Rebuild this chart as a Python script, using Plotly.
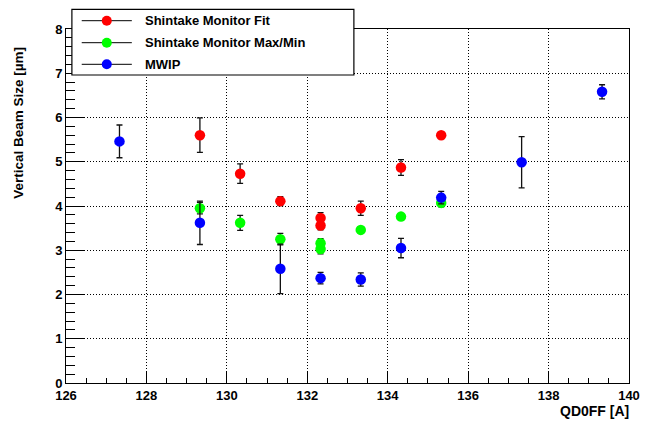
import plotly.graph_objects as go

# ---- data ----
x_fit = [129.33, 130.33, 131.33, 132.33, 132.33, 133.33, 134.33, 135.33]
y_fit = [5.60, 4.73, 4.11, 3.73, 3.56, 3.95, 4.87, 5.60]
e_fit = [0.39, 0.22, 0.10, 0.12, 0.10, 0.16, 0.18, 0.04]

x_mm = [129.33, 130.33, 131.33, 132.33, 132.33, 133.33, 134.33, 135.33]
y_mm = [3.95, 3.62, 3.25, 3.16, 3.03, 3.46, 3.76, 4.07]
e_mm = [0.13, 0.17, 0.13, 0.10, 0.11, 0.06, 0.03, 0.09]

x_mwip = [127.33, 129.33, 131.33, 132.33, 133.33, 134.33, 135.33, 137.33, 139.33]
y_mwip = [5.46, 3.62, 2.58, 2.37, 2.34, 3.05, 4.19, 4.99, 6.58]
e_mwip = [0.37, 0.49, 0.56, 0.13, 0.15, 0.22, 0.14, 0.58, 0.16]

series_names = ["Shintake Monitor Fit", "Shintake Monitor Max/Min", "MWIP"]
series_colors = ["#ff0000", "#00ff00", "#0000ff"]

W, H = 652, 421
ML, MR, MT, MB = 66, 13, 29, 38
PW, PH = W - ML - MR, H - MT - MB

def px(x):
    return (x - ML) / PW

def py(y):
    return (H - MB - y) / PH

FONT = "Liberation Sans"

fig = go.Figure()
for xs, ys, es, name, col in zip([x_fit, x_mm, x_mwip], [y_fit, y_mm, y_mwip],
                                 [e_fit, e_mm, e_mwip], series_names, series_colors):
    fig.add_trace(go.Scatter(
        x=xs, y=ys, mode="markers", name=name, showlegend=False,
        marker=dict(color=col, size=10.5, symbol="circle"),
        error_y=dict(type="data", array=es, visible=True, color="#111111",
                     thickness=1.3, width=3),
    ))

axis_common = dict(
    showline=True, linecolor="black", linewidth=1, mirror=True,
    ticks="inside", tickcolor="black", tickwidth=1,
    showgrid=True, gridcolor="black", gridwidth=1, griddash="1px,2px",
    zeroline=False,
    tickprefix="<b>", ticksuffix="</b>",
    tickfont=dict(family=FONT, size=13, color="black", weight="bold"),
)

fig.update_xaxes(range=[126, 140], tick0=126, dtick=2, ticklen=11,
                 minor=dict(dtick=0.5, ticklen=5, tickcolor="black", ticks="inside", showgrid=False),
                 **axis_common)
fig.update_yaxes(range=[0, 8], tick0=0, dtick=1, ticklen=18,
                 minor=dict(dtick=0.2, ticklen=9, tickcolor="black", ticks="inside", showgrid=False),
                 **axis_common)

annotations = [
    dict(text="<b>Vertical Beam Size [\u00b5m]</b>", textangle=-90, x=px(17), y=py(45),
         xref="paper", yref="paper", xanchor="center", yanchor="top", showarrow=False,
         font=dict(family=FONT, size=13.5, color="black", weight="bold")),
    dict(text="<b>QD0FF [A]</b>", x=px(641), y=py(411), xref="paper", yref="paper",
         xanchor="right", yanchor="middle", showarrow=False,
         font=dict(family=FONT, size=14, color="black", weight="bold")),
]

shapes = [
    dict(type="rect", xref="paper", yref="paper", x0=px(72), x1=px(359), y0=py(75), y1=py(9.3),
         line=dict(color="black", width=1.2), fillcolor="white", layer="above"),
]
rows = [20.7, 42.7, 64.3]
for ry, name, col in zip(rows, series_names, series_colors):
    shapes.append(dict(type="line", xref="paper", yref="paper", x0=px(82), x1=px(133),
                       y0=py(ry), y1=py(ry), line=dict(color="black", width=1), layer="above"))
    shapes.append(dict(type="circle", xref="paper", yref="paper", xsizemode="pixel", ysizemode="pixel",
                       xanchor=px(107.5), yanchor=py(ry), x0=-5, x1=5, y0=-5, y1=5,
                       fillcolor=col, line=dict(color=col, width=0), layer="above"))
    annotations.append(dict(text="<b>" + name + "</b>", x=px(144), y=py(ry), xref="paper", yref="paper",
                            xanchor="left", yanchor="middle", showarrow=False,
                            font=dict(family=FONT, size=13, color="black", weight="bold")))

fig.update_layout(
    width=W, height=H, autosize=False,
    margin=dict(l=ML, r=MR, t=MT, b=MB, pad=0),
    paper_bgcolor="white", plot_bgcolor="white",
    showlegend=False,
    annotations=annotations, shapes=shapes,
)

fig.write_html("out.html", config={"displayModeBar": False},
               post_script="document.body.style.margin='0';document.body.style.overflow='hidden';")
